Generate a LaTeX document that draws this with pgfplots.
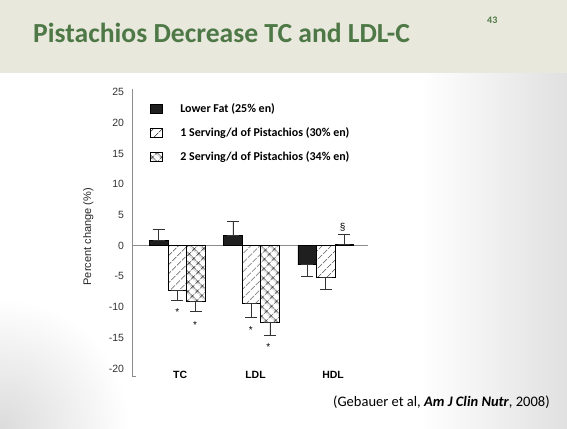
\documentclass[border=0pt]{standalone}
\usepackage{fontspec}
\setmainfont{Carlito}
\newfontfamily\arial{Liberation Sans}
\usepackage{pgfplots}
\pgfplotsset{compat=1.18}
\usetikzlibrary{patterns.meta}
\definecolor{titlegreen}{RGB}{78,121,70}
\definecolor{headbg}{RGB}{233,232,221}
\definecolor{axgray}{RGB}{140,140,140}

\pgfplotstableread{
x y ep em
0 0.9 1.7 0
1 1.7 2.2 0
2 -3.1 0 1.8
}\lowfat
\pgfplotstableread{
x y ep em
0 -7.3 0 1.5
1 -9.4 0 2.3
2 -5.2 0 1.9
}\oneserv
\pgfplotstableread{
x y ep em
0 -9.0 0 1.6
1 -12.4 0 2.1
2 0.25 1.6 0
}\twoserv

\begin{document}
\begin{tikzpicture}[x=1pt,y=1pt]
\fill[white] (0,0) rectangle (567,428);
\begin{scope}
\clip (0,0) rectangle (567,355);
\shade[left color=white, right color=black!12] (420,0) rectangle (567,355);
\shade[inner color=black!14, outer color=white] (0,0) circle (130);
\end{scope}
\fill[headbg] (0,355) rectangle (567,428);
\node[anchor=base west, inner sep=0pt, text=titlegreen, font=\bfseries\fontsize{27.6}{32}\selectfont] at (33,385.3) {Pistachios Decrease TC and LDL-C};
\node[anchor=base west, inner sep=0pt, text=titlegreen, font=\bfseries\fontsize{10}{12}\selectfont] at (487,404.7) {43};
\node[anchor=base west, inner sep=0pt, font=\fontsize{14.5}{17}\selectfont] at (333,21.3) {(Gebauer et al, \textbf{\textit{Am J Clin Nutr}}, 2008)};

\begin{axis}[
  at={(132pt,52pt)}, anchor=south west,
  scale only axis, width=238pt, height=287pt,
  xmin=-0.609, xmax=2.597, ymin=-21.19, ymax=25.48,
  axis line style={draw=none},
  major tick length=0pt,
  ytick={-20,-15,...,25},
  yticklabels={-20,-15,-10,-5,0,5,10,15,20,25},
  yticklabel style={font=\arial\fontsize{10.5}{12}\selectfont, text=black!80, xshift=-4.5pt},
  xtick={0.04,1.055,2.1},
  xticklabels={TC,LDL,HDL},
  xticklabel style={font=\arial\bfseries\fontsize{10.5}{12}\selectfont, anchor=center, yshift=1pt},
  ylabel={Percent change (\%)},
  ylabel style={at={(rel axis cs:-0.1836,0.485)}, anchor=center, font=\arial\fontsize{11}{13}\selectfont, text=black!85},
  ybar=0pt, bar width=18.5pt,
  error bars/y dir=both, error bars/y explicit,
  error bars/error bar style={black!80, line width=0.6pt},
  error bars/error mark options={rotate=90, black!80, mark size=6pt, line width=0.6pt},
  legend image code/.code={\draw[#1] (0pt,-4.5pt) rectangle (11.5pt,4.5pt);},
  legend style={at={(rel axis cs:0.0756,0.95)}, anchor=north west, draw=none, fill=none,
    inner sep=0pt, font=\bfseries\fontsize{12}{14}\selectfont, row sep=13.5pt,
    nodes={inner sep=0pt},
    /tikz/every odd column/.append style={column sep=18pt}},
  legend cell align=left,
  clip=false,
]
\draw[axgray, line width=0.8pt] (axis cs:-0.609,-21.19) -- (axis cs:-0.609,25.48);
\draw[axgray, line width=0.6pt] (axis cs:-0.609,-21.19) -- (axis cs:-0.555,-21.19);
\draw[axgray, line width=0.9pt] (axis cs:-0.609,0) -- (axis cs:2.57,0);
\addplot[draw=black, fill=black!88, line width=0.6pt]
  table[x=x, y=y, y error plus=ep, y error minus=em] {\lowfat};
\addlegendentry{Lower Fat (25\% en)}
\addplot[draw=black, fill=white, line width=0.6pt,
  postaction={pattern={Lines[angle=45, distance=6.5pt, line width=0.6pt]}}]
  table[x=x, y=y, y error plus=ep, y error minus=em] {\oneserv};
\addlegendentry{1 Serving/d of Pistachios (30\% en)}
\addplot[draw=black, fill=white, line width=0.6pt,
  postaction={pattern={Hatch[angle=45, distance=6.5pt, line width=0.6pt]}}]
  table[x=x, y=y, y error plus=ep, y error minus=em] {\twoserv};
\addlegendentry{2 Serving/d of Pistachios (34\% en)}
\node[anchor=base, yshift=-5.7pt, font=\arial\fontsize{10}{12}\selectfont] at (axis cs:0.0,-10.46) {*};
\node[anchor=base, yshift=-5.7pt, font=\arial\fontsize{10}{12}\selectfont] at (axis cs:0.24,-12.6) {*};
\node[anchor=base, yshift=-5.7pt, font=\arial\fontsize{10}{12}\selectfont] at (axis cs:0.99,-13.3) {*};
\node[anchor=base, yshift=-5.7pt, font=\arial\fontsize{10}{12}\selectfont] at (axis cs:1.227,-16.1) {*};
\node[anchor=base, yshift=-3.5pt, font=\arial\fontsize{10}{12}\selectfont] at (axis cs:2.229,3.0) {\S};
\end{axis}
\pgfresetboundingbox
\path[use as bounding box] (0,0) rectangle (567,428);
\end{tikzpicture}
\end{document}
